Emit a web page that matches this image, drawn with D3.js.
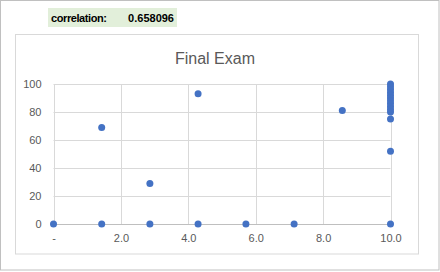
<!DOCTYPE html>
<html>
<head>
<meta charset="utf-8">
<script src="https://cdn.jsdelivr.net/npm/d3@7"></script>
<style>
body{margin:0;background:#fff;}
text{font-family:"Liberation Sans",Arial,sans-serif;}
</style>
</head>
<body>
<div id="chart"></div>
<script>
// scores: x = homework (out of 10), y = final exam
var hw=[0,1.43,1.43,2.86,2.86,4.29,4.29,5.71,7.14,8.57,
	10,10,10,10,10,10,10,10,10,10,10,10,10,10];
var exam=[0,69,0,29,0,93,0,0,0,81,
	100,98,96,94,92,90,88,86,84,82,80,75,52,0];
var xTicks=[0,2,4,6,8,10];
var yTicks=[0,20,40,60,80,100];
var corrLabel="correlation:", corrValue="0.658096";

var width=440,height=272;

var svg=d3.select("#chart")
	.append("svg")
	.attr("width",width)
	.attr("height",height);

// sheet edge
svg.append("rect").attr("x",0.5).attr("y",0.5).attr("width",438.5).attr("height",269.5)
	.attr("fill","none").attr("stroke","#c0c0c0");

// correlation cell
svg.append("rect").attr("x",48).attr("y",8).attr("width",129).attr("height",19).attr("fill","#e2efda");
svg.append("text").attr("x",51).attr("y",22).attr("font-size",11).attr("font-weight","bold")
	.attr("textLength",56).attr("fill","#000").text(corrLabel);
svg.append("text").attr("x",174).attr("y",22).attr("font-size",11).attr("font-weight","bold")
	.attr("text-anchor","end").attr("fill","#000").text(corrValue);

// chart frame
svg.append("rect").attr("x",15.5).attr("y",34.5).attr("width",403).attr("height",219.5)
	.attr("fill","#fff").attr("stroke","#d9d9d9");

svg.append("text").attr("x",215).attr("y",64).attr("text-anchor","middle")
	.attr("font-size",16).attr("fill","#595959").text("Final Exam");

var x=d3.scaleLinear().domain([0,10]).range([53.5,390.5]);
var y=d3.scaleLinear().domain([0,100]).range([224,84]);

var g=svg.append("g");

// grid
g.selectAll(".hg").data(yTicks.filter(function(d){return d>0;})).enter().append("line")
	.attr("x1",x(0)).attr("x2",x(10))
	.attr("y1",function(d){return Math.round(y(d))+0.5;})
	.attr("y2",function(d){return Math.round(y(d))+0.5;})
	.attr("stroke","#d9d9d9");
g.selectAll(".vg").data(xTicks).enter().append("line")
	.attr("x1",function(d){return Math.round(x(d))+0.5;})
	.attr("x2",function(d){return Math.round(x(d))+0.5;})
	.attr("y1",y(100)).attr("y2",y(0))
	.attr("stroke","#d9d9d9");
g.append("line").attr("x1",x(0)).attr("x2",x(10)).attr("y1",y(0)+0.5).attr("y2",y(0)+0.5)
	.attr("stroke","#bfbfbf");

// axis labels via d3 axes, domain and ticks hidden
var yAxis=svg.append("g").attr("transform","translate("+(x(0)-12)+",0)")
	.call(d3.axisLeft(y).tickValues(yTicks).tickSize(0).tickPadding(0));
var xAxis=svg.append("g").attr("transform","translate(0,"+(y(0)+10)+")")
	.call(d3.axisBottom(x).tickValues(xTicks).tickSize(0).tickPadding(0)
		.tickFormat(function(d){return d===0?"-":d.toFixed(1);}));
[xAxis,yAxis].forEach(function(a){
	a.select(".domain").remove();
	a.selectAll("text").attr("fill","#595959").attr("font-size",11)
		.attr("font-family","'Liberation Sans',Arial,sans-serif");
});
yAxis.selectAll("text").attr("dy","0.35em");

// points
svg.selectAll(".pt").data(hw).enter().append("circle")
	.attr("cx",function(d){return x(d);})
	.attr("cy",function(d,i){return y(exam[i]);})
	.attr("r",3.5)
	.attr("fill","#4472c4");
</script>
</body>
</html>
